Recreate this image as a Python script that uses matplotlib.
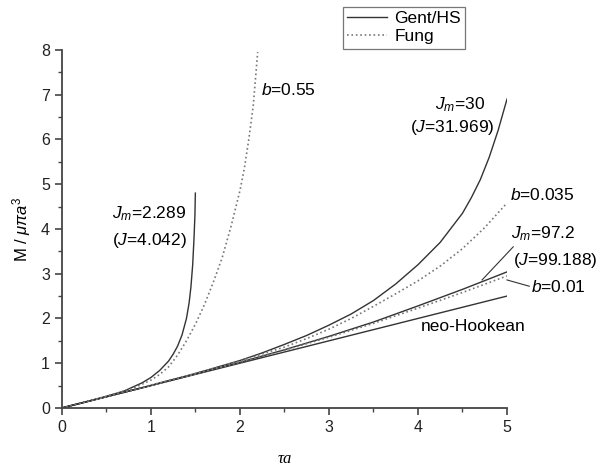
import matplotlib
matplotlib.use('Agg')
import matplotlib.pyplot as plt
from matplotlib.ticker import MultipleLocator

plt.rcParams['font.family'] = ['Liberation Sans', 'DejaVu Sans']
plt.rcParams['mathtext.fontset'] = 'custom'
plt.rcParams['mathtext.rm'] = 'Liberation Sans'
plt.rcParams['mathtext.it'] = 'Liberation Sans:italic'

# Gent / HS curves
gent1_x = [0, 0.5, 0.7, 0.9, 1.0, 1.1, 1.2, 1.25, 1.3, 1.35, 1.4, 1.43, 1.45, 1.47, 1.485, 1.495, 1.5]
gent1_y = [0, 0.26, 0.38, 0.56, 0.68, 0.84, 1.05, 1.2, 1.38, 1.63, 2.0, 2.35, 2.7, 3.2, 3.8, 4.3, 4.8]
gent30_x = [0, 0.5, 1.0, 1.5, 2.0, 2.25, 2.5, 2.75, 3.0, 3.25, 3.5, 3.75, 4.0, 4.25, 4.5, 4.6, 4.7, 4.8, 4.9, 5.0]
gent30_y = [0, 0.25, 0.505, 0.77, 1.06, 1.23, 1.42, 1.62, 1.85, 2.1, 2.4, 2.77, 3.2, 3.7, 4.35, 4.7, 5.1, 5.6, 6.2, 6.9]
gent97_x = [0, 1, 2, 2.5, 3, 3.5, 4, 4.5, 5]
gent97_y = [0, 0.5, 1.02, 1.3, 1.6, 1.92, 2.28, 2.65, 3.04]
neo_x = [0, 1, 2, 3, 4, 5]
neo_y = [0, 0.5, 1.0, 1.5, 2.0, 2.5]

# Fung curves
fung55_x = [0, 0.5, 0.8, 1.0, 1.1, 1.2, 1.3, 1.4, 1.5, 1.6, 1.7, 1.8, 1.9, 2.0, 2.05, 2.1, 2.15, 2.2]
fung55_y = [0, 0.26, 0.44, 0.62, 0.75, 0.92, 1.18, 1.5, 1.87, 2.3, 2.8, 3.35, 4.05, 4.85, 5.35, 6.0, 6.75, 7.95]
fung035_x = [0, 1.0, 1.5, 2.0, 2.5, 2.75, 3.0, 3.25, 3.5, 3.75, 4.0, 4.25, 4.5, 4.75, 5.0]
fung035_y = [0, 0.51, 0.77, 1.05, 1.36, 1.55, 1.76, 2.0, 2.27, 2.55, 2.84, 3.17, 3.56, 4.03, 4.58]
fung01_x = [0, 1, 2, 2.5, 3, 3.5, 4, 4.5, 5]
fung01_y = [0, 0.5, 1.02, 1.29, 1.58, 1.89, 2.23, 2.58, 2.95]

c = '#333333'
dc = '#777777'
fig = plt.figure(figsize=(6, 4.66), dpi=100)
ax = fig.add_axes([0.103, 0.1245, 0.742, 0.7685])

ax.plot(gent1_x, gent1_y, color=c, lw=1, label='Gent/HS')
ax.plot(fung55_x, fung55_y, color=dc, lw=1.2, ls=':', label='Fung')
ax.plot(gent30_x, gent30_y, color=c, lw=1)
ax.plot(gent97_x, gent97_y, color=c, lw=1)
ax.plot(neo_x, neo_y, color=c, lw=1)
ax.plot(fung035_x, fung035_y, color=dc, lw=1.2, ls=':')
ax.plot(fung01_x, fung01_y, color=dc, lw=1.2, ls=':')

ax.set_xlim(0, 5)
ax.set_ylim(0, 8)
ax.xaxis.set_major_locator(MultipleLocator(1))
ax.xaxis.set_minor_locator(MultipleLocator(0.5))
ax.yaxis.set_major_locator(MultipleLocator(1))
ax.yaxis.set_minor_locator(MultipleLocator(0.5))
for s in ['top', 'right']:
    ax.spines[s].set_visible(False)
for s in ['left', 'bottom']:
    ax.spines[s].set_color('#444444')
    ax.spines[s].set_linewidth(1.3)
ax.tick_params(which='major', direction='out', length=5, width=1.2, color='#444444', labelsize=11.5, labelcolor='#222222')
ax.tick_params(which='minor', direction='out', length=3, width=1.0, color='#444444')

ax.set_xlabel('τa', family='Liberation Serif', style='italic', fontsize=12, labelpad=12)
ax.set_ylabel(r'M / $\mu\pi a^3$', fontsize=12, labelpad=6)

fs = 12.5
ax.text(1.4, 4.35, r'$J_m$=2.289', ha='right', va='center', fontsize=fs)
ax.text(1.4, 3.75, r'($J$=4.042)', ha='right', va='center', fontsize=fs)
ax.text(2.24, 7.1, r'$b$=0.55', ha='left', va='center', fontsize=fs)
ax.text(4.47, 6.77, r'$J_m$=30', ha='center', va='center', fontsize=fs)
ax.text(4.38, 6.26, r'($J$=31.969)', ha='center', va='center', fontsize=fs)
ax.text(5.03, 4.76, r'$b$=0.035', ha='left', va='center', fontsize=fs, clip_on=False)
ax.text(5.05, 3.9, r'$J_m$=97.2', ha='left', va='center', fontsize=fs, clip_on=False)
ax.text(5.07, 3.3, r'($J$=99.188)', ha='left', va='center', fontsize=fs, clip_on=False)
ax.text(5.27, 2.7, r'$b$=0.01', ha='left', va='center', fontsize=fs, clip_on=False)
ax.text(4.62, 1.81, 'neo-Hookean', ha='center', va='center', fontsize=fs)
ax.plot([4.72, 5.07], [2.86, 3.6], color=c, lw=0.8, clip_on=False)
ax.plot([5.0, 5.25], [2.86, 2.72], color=c, lw=0.8, clip_on=False)

leg = ax.legend(loc='upper left', bbox_to_anchor=(343 / 600, 1 - 7 / 466), bbox_transform=fig.transFigure,
                frameon=True, fancybox=False, fontsize=12.5, handlelength=2.3, borderpad=0.25,
                labelspacing=0.15, handletextpad=0.4, borderaxespad=0)
leg.get_frame().set_edgecolor('#555555')
leg.get_frame().set_linewidth(0.9)

plt.savefig('out.png', dpi=100)
